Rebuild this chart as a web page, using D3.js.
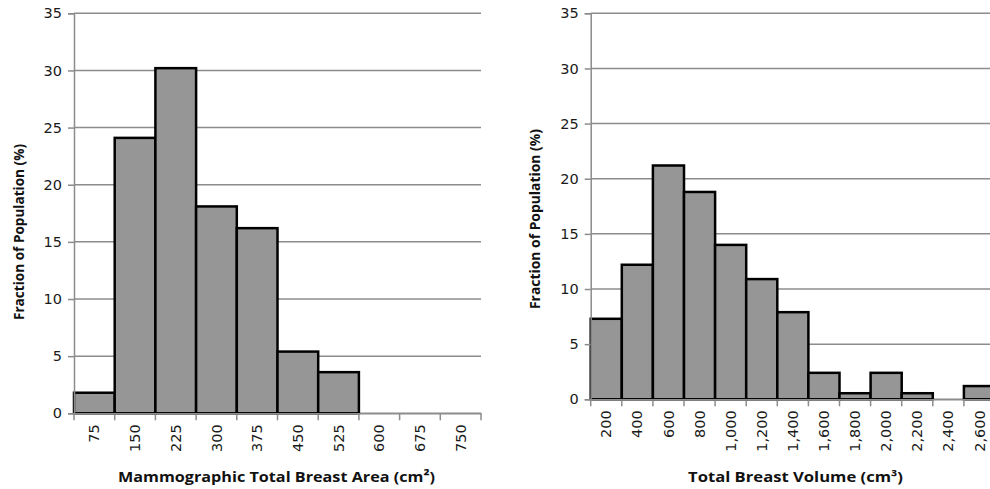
<!DOCTYPE html>
<html lang="en">
<head>
  <meta charset="UTF-8">
  <title>Breast Area and Volume Histograms</title>
  <style>
    body, html {
      margin: 0;
      padding: 0;
      background: white;
      overflow: hidden;
    }
    svg {
      display: block;
    }
    .tick text {
      font-family: "DejaVu Sans", Verdana, sans-serif;
      font-size: 14.5px;
      fill: #1a1a1a;
    }
    .axis-title {
      font-family: "Open Sans", Lato, sans-serif;
      font-weight: bold;
      fill: #111;
    }
  </style>
</head>
<body>
  <script src="https://d3js.org/d3.v7.min.js"></script>
  <script>
    // data
    const areaBins = ['75', '150', '225', '300', '375', '450', '525', '600', '675', '750'];
    const areaValues = [1.8, 24.1, 30.2, 18.1, 16.2, 5.4, 3.6, 0, 0, 0];

    const volumeBins = ['200', '400', '600', '800', '1,000', '1,200', '1,400', '1,600', '1,800', '2,000', '2,200', '2,400', '2,600'];
    const volumeValues = [7.3, 12.2, 21.2, 18.8, 14.0, 10.9, 7.9, 2.4, 0.55, 2.4, 0.55, 0, 1.2];

    const yTicks = [0, 5, 10, 15, 20, 25, 30, 35];

    const width = 990;
    const height = 489;

    const svg = d3.select('body')
      .append('svg')
      .attr('width', width)
      .attr('height', height);

    function drawHistogram(opts) {
      const g = svg.append('g');

      const x = d3.scaleBand()
        .domain(opts.bins)
        .range([opts.left, opts.right])
        .padding(0);

      const y = d3.scaleLinear()
        .domain([0, 35])
        .range([opts.bottom, opts.top]);

      // gridlines
      g.append('g')
        .selectAll('line')
        .data(yTicks)
        .enter()
        .append('line')
        .attr('x1', opts.left)
        .attr('x2', opts.gridRight)
        .attr('y1', d => y(d))
        .attr('y2', d => y(d))
        .attr('stroke', '#8c8c8c')
        .attr('stroke-width', 1.5);

      // bars (empty bins are skipped)
      const rows = opts.bins.map((b, i) => ({ bin: b, value: opts.values[i] }))
        .filter(d => d.value > 0);

      g.append('g')
        .selectAll('rect')
        .data(rows)
        .enter()
        .append('rect')
        .attr('x', d => x(d.bin))
        .attr('y', d => y(d.value))
        .attr('width', x.bandwidth())
        .attr('height', d => opts.bottom - y(d.value))
        .attr('fill', '#969696')
        .attr('stroke', '#000')
        .attr('stroke-width', 2.5);

      // y axis
      const yAxis = g.append('g')
        .attr('transform', `translate(${opts.left},0)`)
        .call(d3.axisLeft(y).tickValues(yTicks).tickSize(6).tickPadding(6));
      yAxis.selectAll('line, path').attr('stroke', '#8c8c8c').attr('stroke-width', 1.5);

      // x axis, ticks on bin edges
      const edges = opts.bins.map(b => x(b)).concat([x(opts.bins[opts.bins.length - 1]) + x.bandwidth()]);
      const xAxis = g.append('g')
        .attr('transform', `translate(0,${opts.bottom})`)
        .call(d3.axisBottom(x).tickSize(0).tickPadding(0));
      xAxis.select('.domain').attr('stroke', '#8c8c8c').attr('stroke-width', 1.5);
      xAxis.selectAll('.tick text')
        .attr('transform', 'rotate(-90)')
        .attr('text-anchor', 'end')
        .attr('x', -11)
        .attr('y', 0)
        .attr('dy', '0.35em');
      xAxis.selectAll('.edge')
        .data(edges)
        .enter()
        .append('line')
        .attr('class', 'edge')
        .attr('x1', d => d)
        .attr('x2', d => d)
        .attr('y1', 0)
        .attr('y2', 7)
        .attr('stroke', '#8c8c8c')
        .attr('stroke-width', 1.5);

      // axis titles
      g.append('text')
        .attr('class', 'axis-title')
        .attr('transform', `translate(${opts.yTitleX},${opts.yTitleY}) rotate(-90)`)
        .attr('text-anchor', 'middle')
        .style('font-size', '14px')
        .attr('textLength', opts.yTitleLen)
        .attr('lengthAdjust', 'spacingAndGlyphs')
        .text('Fraction of Population (%)');

      g.append('text')
        .attr('class', 'axis-title')
        .attr('x', opts.xTitleX)
        .attr('y', 482)
        .attr('text-anchor', 'middle')
        .style('font-size', '15px')
        .attr('textLength', opts.xTitleLen)
        .attr('lengthAdjust', 'spacingAndGlyphs')
        .text(opts.xTitle);
    }

    drawHistogram({
      bins: areaBins,
      values: areaValues,
      left: 74, right: 481, gridRight: 481,
      top: 13.3, bottom: 413.3,
      yTitleX: 24, yTitleY: 232, yTitleLen: 176,
      xTitleX: 276.5, xTitleLen: 317,
      xTitle: 'Mammographic Total Breast Area (cm²)'
    });

    drawHistogram({
      bins: volumeBins,
      values: volumeValues,
      left: 590.7, right: 590.7 + 13 * 31.1, gridRight: 1000,
      top: 13.3, bottom: 399.3,
      yTitleX: 540, yTitleY: 219, yTitleLen: 180,
      xTitleX: 795.5, xTitleLen: 215,
      xTitle: 'Total Breast Volume (cm³)'
    });
  </script>
</body>
</html>
